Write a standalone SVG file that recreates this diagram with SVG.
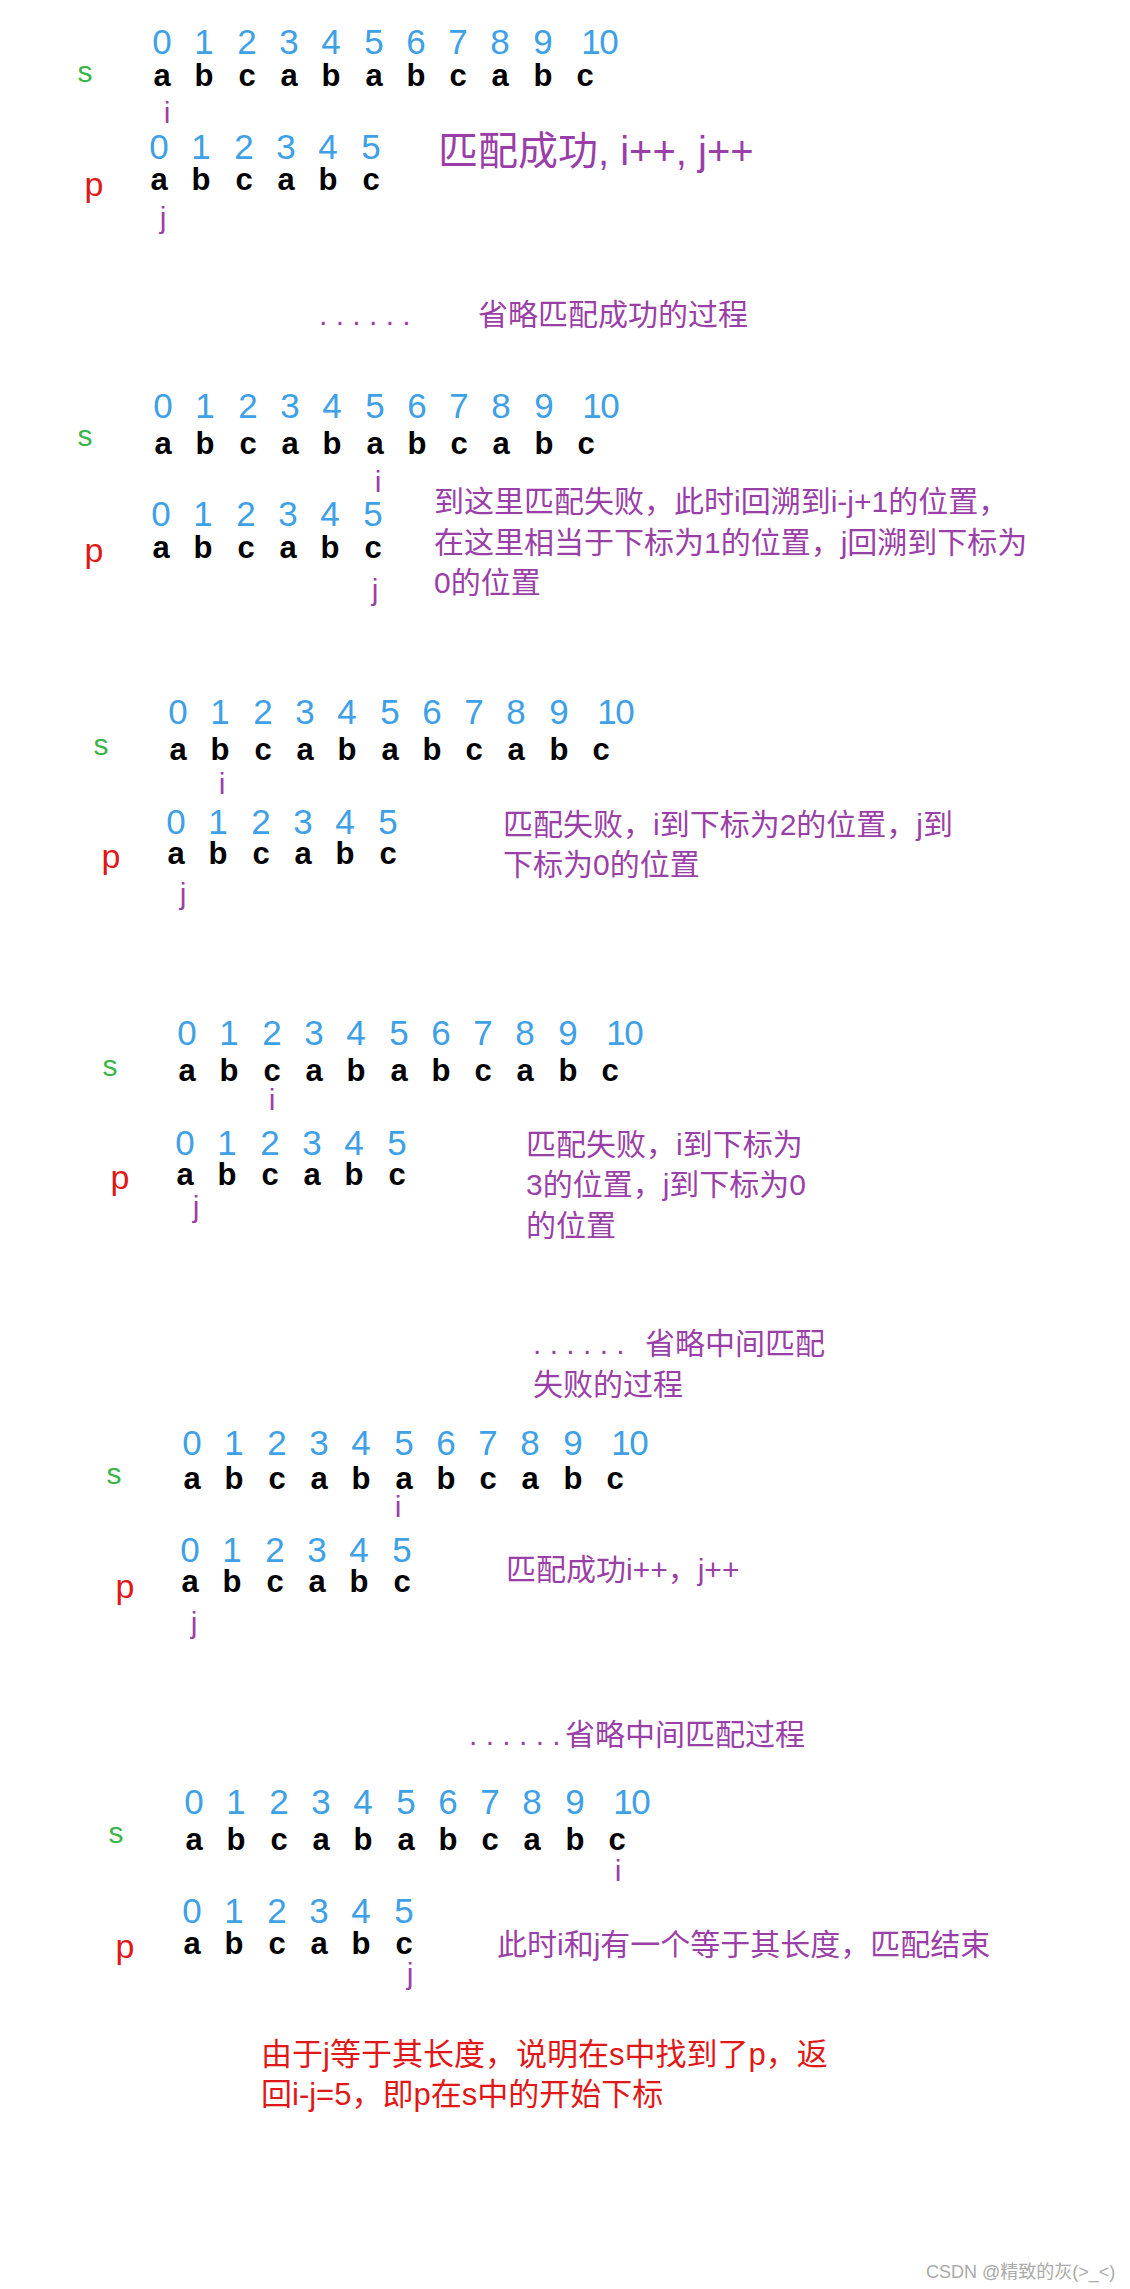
<svg xmlns="http://www.w3.org/2000/svg" width="1130" height="2289" viewBox="0 0 1130 2289">
<style>
.d{font-family:"Liberation Sans",Arial,sans-serif;font-size:35px;fill:#3ea0e6;text-anchor:middle}
.l{font-family:"Liberation Sans",Arial,sans-serif;font-size:31px;font-weight:bold;fill:#000;text-anchor:middle}
.s{font-family:"Liberation Sans",Arial,sans-serif;font-size:30px;fill:#3ab54a;text-anchor:middle}
.p{font-family:"Liberation Sans",Arial,sans-serif;font-size:34px;fill:#e01818;text-anchor:middle}
.ij{font-family:"Liberation Sans",Arial,sans-serif;font-size:30px;fill:#9b3fa8;text-anchor:middle}
.t{font-family:"Liberation Sans","Noto Sans CJK SC",sans-serif;font-size:30px;fill:#9b3fa8}
.r{font-family:"Liberation Sans","Noto Sans CJK SC",sans-serif;font-size:31px;fill:#e01818}
</style>
<rect width="1130" height="2289" fill="#fff"/>
<g id="block1">
<text class="s" x="85" y="82">s</text>
<text class="d" x="162 204 247 289 331 374 416 458 500 543 591 609" y="54">012345678910</text>
<text class="l" x="162 204 247 289 331 374 416 458 500 543 585" y="86">abcababcabc</text>
<text class="ij" x="167" y="123">i</text>
<text class="p" x="94" y="196">p</text>
<text class="d" x="159 201 244 286 328 371" y="159">012345</text>
<text class="l" x="159 201 244 286 328 371" y="190">abcabc</text>
<text class="ij" x="163" y="228">j</text>
<text class="t" x="438" y="165" style="font-size:40px">匹配成功, i++, j++</text>
</g>
<g id="note1"><text class="t" x="319" y="325">. . .    . . .</text><text class="t" x="478" y="325">省略匹配成功的过程</text></g>
<g id="block2">
<text class="s" x="85" y="446">s</text>
<text class="d" x="163 205 248 290 332 375 417 459 501 544 592 610" y="418">012345678910</text>
<text class="l" x="163 205 248 290 332 375 417 459 501 544 586" y="454">abcababcabc</text>
<text class="ij" x="378" y="492">i</text>
<text class="p" x="94" y="562">p</text>
<text class="d" x="161 203 246 288 330 373" y="526">012345</text>
<text class="l" x="161 203 246 288 330 373" y="558">abcabc</text>
<text class="ij" x="375" y="600">j</text>
<text class="t" x="434" y="512">到这里匹配失败，此时i回溯到i-j+1的位置，</text>
<text class="t" x="434" y="553">在这里相当于下标为1的位置，j回溯到下标为</text>
<text class="t" x="434" y="593">0的位置</text>
</g>
<g id="block3">
<text class="s" x="101" y="755">s</text>
<text class="d" x="178 220 263 305 347 390 432 474 516 559 607 625" y="724">012345678910</text>
<text class="l" x="178 220 263 305 347 390 432 474 516 559 601" y="760">abcababcabc</text>
<text class="ij" x="222" y="794">i</text>
<text class="p" x="111" y="868">p</text>
<text class="d" x="176 218 261 303 345 388" y="834">012345</text>
<text class="l" x="176 218 261 303 345 388" y="864">abcabc</text>
<text class="ij" x="183" y="904">j</text>
<text class="t" x="503" y="835">匹配失败，i到下标为2的位置，j到</text>
<text class="t" x="503" y="875">下标为0的位置</text>
</g>
<g id="block4">
<text class="s" x="110" y="1076">s</text>
<text class="d" x="187 229 272 314 356 399 441 483 525 568 616 634" y="1045">012345678910</text>
<text class="l" x="187 229 272 314 356 399 441 483 525 568 610" y="1081">abcababcabc</text>
<text class="ij" x="272" y="1110">i</text>
<text class="p" x="120" y="1189">p</text>
<text class="d" x="185 227 270 312 354 397" y="1155">012345</text>
<text class="l" x="185 227 270 312 354 397" y="1185">abcabc</text>
<text class="ij" x="196" y="1217">j</text>
<text class="t" x="526" y="1155">匹配失败，i到下标为</text>
<text class="t" x="526" y="1195">3的位置，j到下标为0</text>
<text class="t" x="526" y="1236">的位置</text>
</g>
<g id="note2">
<text class="t" x="533" y="1354">. . . . . .</text><text class="t" x="645" y="1354">省略中间匹配</text>
<text class="t" x="533" y="1395">失败的过程</text>
</g>
<g id="block5">
<text class="s" x="114" y="1484">s</text>
<text class="d" x="192 234 277 319 361 404 446 488 530 573 621 639" y="1455">012345678910</text>
<text class="l" x="192 234 277 319 361 404 446 488 530 573 615" y="1489">abcababcabc</text>
<text class="ij" x="398" y="1517">i</text>
<text class="p" x="125" y="1598">p</text>
<text class="d" x="190 232 275 317 359 402" y="1562">012345</text>
<text class="l" x="190 232 275 317 359 402" y="1592">abcabc</text>
<text class="ij" x="194" y="1633">j</text>
<text class="t" x="506" y="1580">匹配成功i++，j++</text>
</g>
<g id="note3"><text class="t" x="469" y="1745">. . . . . .</text><text class="t" x="565" y="1745">省略中间匹配过程</text></g>
<g id="block6">
<text class="s" x="116" y="1843">s</text>
<text class="d" x="194 236 279 321 363 406 448 490 532 575 623 641" y="1814">012345678910</text>
<text class="l" x="194 236 279 321 363 406 448 490 532 575 617" y="1850">abcababcabc</text>
<text class="ij" x="618" y="1881">i</text>
<text class="p" x="125" y="1958">p</text>
<text class="d" x="192 234 277 319 361 404" y="1923">012345</text>
<text class="l" x="192 234 277 319 361 404" y="1954">abcabc</text>
<text class="ij" x="410" y="1984">j</text>
<text class="t" x="497" y="1955">此时i和j有一个等于其长度，匹配结束</text>
<text class="r" x="261" y="2065">由于j等于其长度，说明在s中找到了p，返</text>
<text class="r" x="261" y="2105">回i-j=5，即p在s中的开始下标</text>
</g>
<g id="connectors"></g>
<text x="926" y="2278" style="font-family:'Liberation Sans','Noto Sans CJK SC',sans-serif;font-size:18px;fill:#aaa">CSDN @精致的灰(&gt;_&lt;)</text>
</svg>
